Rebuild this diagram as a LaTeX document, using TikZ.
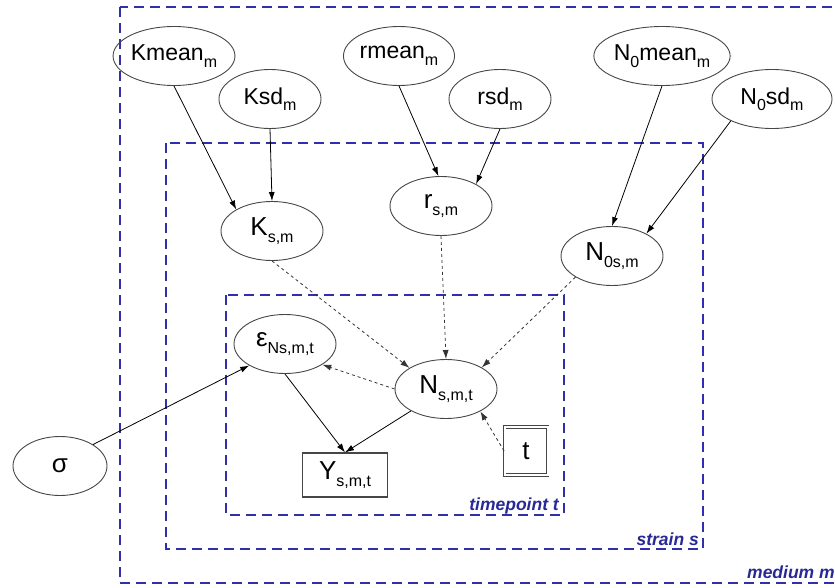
\documentclass[tikz,border=0pt]{standalone}
\usepackage{fontspec}
\setmainfont{Liberation Sans}
\usetikzlibrary{shapes.geometric,arrows.meta}
\definecolor{plate}{RGB}{48,48,170}
\definecolor{platetext}{RGB}{40,40,150}
\definecolor{nodeline}{RGB}{70,70,70}
\newcommand\lsub[1]{\raisebox{-0.28em}{\fontsize{16}{16}\selectfont #1}}
\tikzset{
  el/.style={ellipse, draw=nodeline, line width=0.9pt, minimum width=102pt, minimum height=59pt, inner sep=0pt, font=\fontsize{23}{25}\selectfont},
  elb/.style={el, font=\fontsize{26}{28}\selectfont},
  obsbox/.style={rectangle, draw=nodeline, line width=1.1pt, minimum width=85pt, minimum height=44pt, inner sep=0pt, font=\fontsize{26}{28}\selectfont},
  dbox/.style={rectangle, draw=nodeline, line width=0.8pt, double, double distance=2pt, minimum width=43pt, minimum height=48pt, inner sep=0pt, font=\fontsize{26}{28}\selectfont},
  platebox/.style={draw=plate, line width=2pt, dash pattern=on 10pt off 6pt},
  platelabel/.style={text=platetext, font=\fontsize{17.5}{19}\selectfont\bfseries\itshape, inner sep=0pt},
  solidarr/.style={-{Latex[length=9pt,width=6pt]}, line width=0.8pt, black},
  dasharr/.style={-{Latex[length=9pt,width=6pt]}, line width=0.8pt, black!80, dash pattern=on 3pt off 3pt},
}
\begin{document}
\begin{tikzpicture}[x=1pt,y=-1pt]
\useasboundingbox (0,0) rectangle (835,588);
\clip (0,0) rectangle (835,588);
% plates
\draw[platebox] (120,7) rectangle (860,583);
\draw[platebox] (166,143) rectangle (703,549);
\draw[platebox] (226,295) rectangle (564,515);
\node[platelabel, anchor=base east] (lt) at (559,510) {timepoint t};
\node[platelabel, anchor=base east] (ls) at (699,545) {strain s};
\node[platelabel, anchor=base west] (lm) at (747,578) {medium m};
% nodes
\node[el] (Kmean) at (174,56) {Kmean\lsub{m}};
\node[el] (Ksd) at (270,99) {Ksd\lsub{m}};
\node[el] (rmean) at (399,56) {rmean\lsub{m}};
\node[el] (rsd) at (500,99) {rsd\lsub{m}};
\node[el, minimum width=120pt] (N0mean) at (662,56) {N\lsub{0}mean\lsub{m}};
\node[el, minimum width=120pt] (N0sd) at (772,99) {N\lsub{0}sd\lsub{m}};
\node[elb] (K) at (272,231) {K\lsub{s,m}};
\node[elb] (r) at (441,206) {r\lsub{s,m}};
\node[elb] (N0) at (612,256) {N\lsub{0s,m}};
\node[elb] (eps) at (285,344) {ε\lsub{Ns,m,t}};
\node[elb] (N) at (446,389) {N\lsub{s,m,t}};
\node[obsbox] (Y) at (345,475) {Y\lsub{s,m,t}};
\node[dbox] (t) at (526,451) {t};
\node[elb, minimum width=94pt] (sig) at (60,466) {σ};
% edges
\draw[solidarr] (Kmean.-90) -- (K.149);
\draw[solidarr] (Ksd.-90) -- (K.90);
\draw[solidarr] (rmean.-90) -- (r.95);
\draw[solidarr] (rsd.-90) -- (r.32);
\draw[solidarr] (N0mean.-90) -- (N0.90);
\draw[solidarr] (N0sd.-152) -- (N0.33);
\draw[dasharr] (K.-90) -- (N.150);
\draw[dasharr] (r.-90) -- (N.90);
\draw[dasharr] (N0.-150) -- (N.31);
\draw[dasharr] (N.west) -- (eps.-29);
\draw[dasharr] (t.west) -- (N.-33);
\draw[solidarr] (eps.-90) -- (Y.north);
\draw[solidarr] (N.-148) -- (Y.north);
\draw[solidarr] (sig.33) -- (eps.-149);
\end{tikzpicture}
\end{document}
